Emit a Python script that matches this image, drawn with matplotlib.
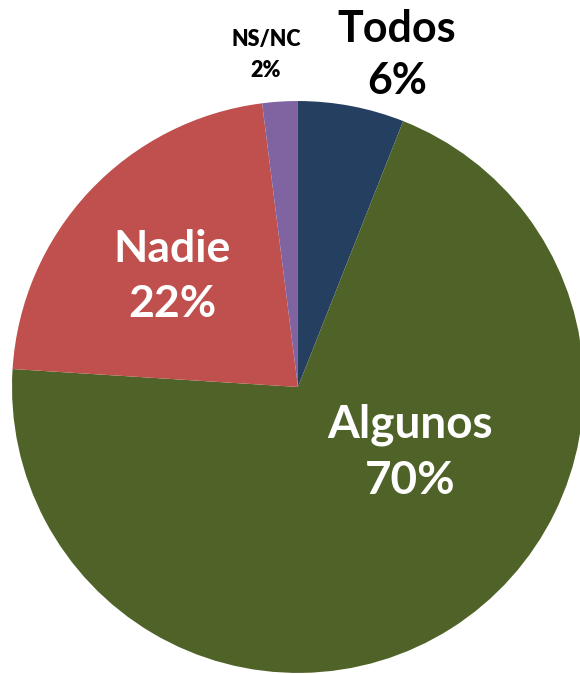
import matplotlib
matplotlib.use("Agg")
import matplotlib.pyplot as plt

labels = ["Todos", "Algunos", "Nadie", "NS/NC"]
values = [6, 70, 22, 2]
colors = ["#243F60", "#4F6228", "#C0504D", "#8064A2"]

fig = plt.figure(figsize=(5.8, 6.74), dpi=100)
ax = fig.add_axes([0.0207, 0.0015, 0.986, 0.8487])
ax.pie(values, colors=colors, startangle=90, counterclock=False, radius=1,
       wedgeprops=dict(linewidth=0))
ax.set_xlim(-1, 1)
ax.set_ylim(-1, 1)
ax.set_aspect("equal")
ax.axis("off")

font = ["Lato", "DejaVu Sans"]
txt = [
    (labels[0], values[0], 0.346, 1.161, "black", 31, 1.35, "bold"),
    (labels[1], values[1], 0.392, -0.231, "white", 33, 1.42, "bold"),
    (labels[2], values[2], -0.44, 0.385, "white", 32, 1.45, "bold"),
    (labels[3], values[3], -0.112, 1.161, "black", 15.5, 1.55, "heavy"),
]
for name, v, x, y, c, fs, ls, w in txt:
    ax.text(x, y, f"{name}\n{v}%", ha="center", va="center", color=c,
            fontsize=fs, fontweight=w, family=font, clip_on=False,
            linespacing=ls)

fig.savefig("out.png", dpi=100)
